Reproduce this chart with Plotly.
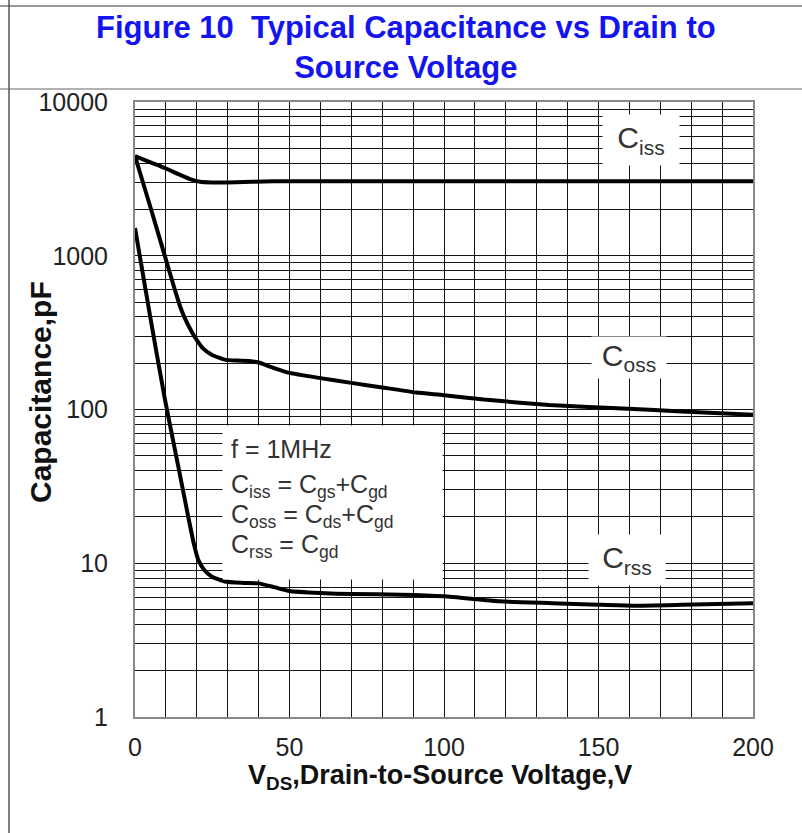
import plotly.graph_objects as go

# ---- data ----
ciss_v = [0, 5, 9.7, 14, 18.3, 21, 24.8, 30, 45, 100, 150, 200]
ciss_c = [4450, 4050, 3720, 3400, 3125, 3030, 3000, 3000, 3050, 3050, 3050, 3050]

coss_v = [0, 4.9, 9.7, 12.9, 14.6, 16.2, 18, 19.9, 22, 24.8, 29, 33, 37, 40, 45, 50,
          60, 70, 80, 91, 100, 113, 134, 156, 177, 200]
coss_c = [4450, 2100, 990, 601, 468, 390, 330, 285, 250, 227, 211, 208, 207, 202, 186, 173,
          160, 149, 139, 129, 124, 116, 107, 102, 97, 92.5]

crss_v = [0, 4.9, 9.7, 14, 17.2, 19, 20.5, 22.5, 24.8, 29, 35, 40, 45, 50, 60, 70, 86,
          100, 118, 135, 150, 161, 177, 200]
crss_c = [1515, 403, 116, 42.7, 20.2, 13.5, 10.5, 9.0, 8.2, 7.6, 7.45, 7.4, 7.0, 6.6, 6.4,
          6.3, 6.25, 6.1, 5.65, 5.5, 5.37, 5.3, 5.37, 5.5]

x_ticks = [0, 50, 100, 150, 200]
y_ticks = [1, 10, 100, 1000, 10000]
y_tick_text = ["1", "10", "100", "1000", "10000"]
y_minor = [m * 10 ** d for d in range(4) for m in range(2, 10)]

cond_lines = ["f = 1MHz",
              "C<sub>iss</sub> = C<sub>gs</sub>+C<sub>gd</sub>",
              "C<sub>oss</sub> = C<sub>ds</sub>+C<sub>gd</sub>",
              "C<sub>rss</sub> = C<sub>gd</sub>"]

FONT = "Liberation Sans, Arial, sans-serif"
GRID = "#151515"

fig = go.Figure()
for v, c, name in [(ciss_v, ciss_c, "Ciss"), (coss_v, coss_c, "Coss"), (crss_v, crss_c, "Crss")]:
    fig.add_trace(go.Scatter(x=v, y=c, mode="lines", name=name,
                             line=dict(color="black", width=4, shape="spline", smoothing=0.5)))

W, H = 802, 833
L, R, T, B = 135, 49, 102, 116
pw, ph = W - L - R, H - T - B

def px(x):
    return (x - L) / pw

def py(y):
    return (H - B - y) / ph

fig.update_layout(
    width=W, height=H,
    margin=dict(l=L, r=R, t=T, b=B),
    paper_bgcolor="white", plot_bgcolor="white",
    showlegend=False,
    font=dict(family=FONT, color="#222"),
    xaxis=dict(range=[0, 200], tickvals=x_ticks, showgrid=True, gridcolor=GRID, gridwidth=1.4,
               minor=dict(dtick=10, showgrid=True, gridcolor=GRID, gridwidth=1.4),
               showline=True, mirror=True, linecolor="#888", linewidth=2,
               zeroline=False, tickfont=dict(size=25, color="#222"), ticklabelstandoff=7),
    yaxis=dict(type="log", range=[0, 4], tickvals=y_ticks, ticktext=y_tick_text,
               showgrid=True, gridcolor=GRID, gridwidth=1.4,
               minor=dict(tickvals=y_minor, showgrid=True, gridcolor=GRID, gridwidth=1.4),
               showline=True, mirror=True, linecolor="#888", linewidth=2,
               zeroline=False, tickfont=dict(size=25, color="#222"), ticklabelstandoff=20),
)

ann = []
# title
ann.append(dict(text="<b>Figure 10  Typical Capacitance vs Drain to<br>Source Voltage</b>",
                xref="paper", yref="paper", x=px(406), y=py(47), xanchor="center", yanchor="middle",
                showarrow=False, font=dict(size=31, color="#1414f0", family=FONT)))
# axis titles
ann.append(dict(text="<b>V<sub>DS</sub>,Drain-to-Source Voltage,V</b>",
                xref="paper", yref="paper", x=px(440), y=py(777), xanchor="center", yanchor="middle",
                showarrow=False, font=dict(size=27, color="#111", family=FONT)))
ann.append(dict(text="<b>Capacitance,pF</b>", textangle=-90,
                xref="paper", yref="paper", x=px(40), y=py(392), xanchor="center", yanchor="middle",
                showarrow=False, font=dict(size=30, color="#111", family=FONT)))
# curve labels
for txt, cx, cy, w, h in [("C<sub>iss</sub>", 641, 140, 72, 46),
                          ("C<sub>oss</sub>", 629, 357, 70, 37),
                          ("C<sub>rss</sub>", 627, 560, 72, 46)]:
    ann.append(dict(text=txt, xref="paper", yref="paper", x=px(cx), y=py(cy),
                    xanchor="center", yanchor="middle", showarrow=False,
                    bgcolor="white", width=w, height=h, borderpad=2,
                    font=dict(size=30, color="#333", family=FONT)))
# white box behind the conditions text
ann.append(dict(text=" ", xref="paper", yref="paper", x=px(332.5), y=py(502.5),
                xanchor="center", yanchor="middle", showarrow=False,
                bgcolor="white", width=215, height=149, borderpad=2,
                font=dict(size=10, family=FONT)))
# conditions text, one line each
for txt, cy in zip(cond_lines, [449, 486, 516, 546]):
    ann.append(dict(text=txt, xref="paper", yref="paper", x=px(229), y=py(cy),
                    xanchor="left", yanchor="middle", showarrow=False,
                    font=dict(size=25, color="#333", family=FONT)))
fig.update_layout(annotations=ann)

# page / table borders
shapes = [
    dict(type="line", xref="paper", yref="paper", x0=px(0), x1=px(W), y0=py(6), y1=py(6),
         line=dict(color="#777", width=1.5)),
    dict(type="line", xref="paper", yref="paper", x0=px(0), x1=px(W), y0=py(89), y1=py(89),
         line=dict(color="#999", width=1.5)),
    dict(type="line", xref="paper", yref="paper", x0=px(9), x1=px(9), y0=py(0), y1=py(H),
         line=dict(color="#555", width=1.5)),
]
fig.update_layout(shapes=shapes)

fig.write_html("out.html", config={"displayModeBar": False},
               post_script="document.body.style.margin='0';")
